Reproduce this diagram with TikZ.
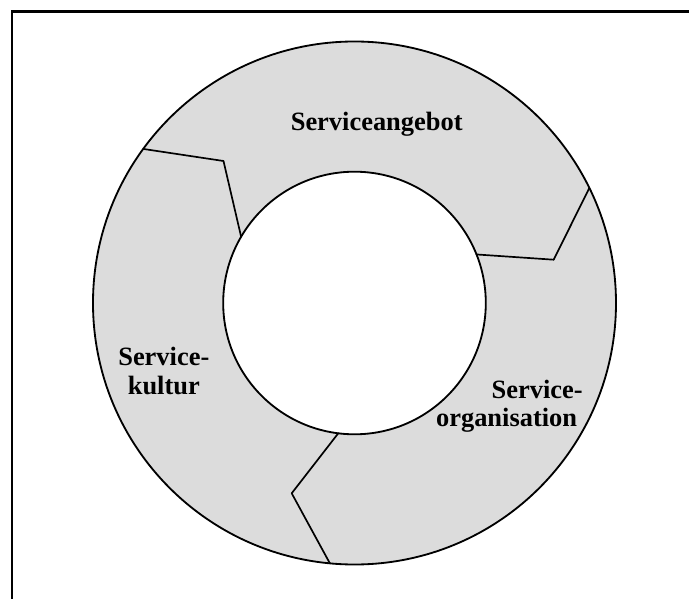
\documentclass[tikz,border=0pt]{standalone}
\usepackage{fontspec}
\setmainfont{Liberation Serif}
\usepackage[dvipsnames,svgnames]{xcolor}
\usepackage{tkz-euclide}
\definecolor{ringgray}{RGB}{220,220,220}
\tikzset{ringlabel/.style={font=\fontsize{18.8}{20}\selectfont\bfseries,inner sep=0pt}}

\begin{document}
\begin{tikzpicture}[scale=.5]
  \useasboundingbox (-17.725,-14.8) rectangle (16.725,15.15);
  % fixed points
  \tkzDefPoint(0,0){O}
  \tkzDefPoint(0:13.075){P}
  \tkzDefPoint(0:6.565){Q}
  % borders between the parts
  \tkzDefPoint(143.9:13.075){A}
  \tkzDefPoint(-6.55,7.1){B}
  \tkzDefPoint(149.7:6.565){C}
  \tkzDefPoint(26.1:13.075){D}
  \tkzDefPoint(9.96,2.165){E}
  \tkzDefPoint(21.7:6.565){F}
  \tkzDefPoint(262.9:6.565){G}
  \tkzDefPoint(-3.14,-9.515){H}
  \tkzDefPoint(264.6:13.075){I}
  % frame
  \draw[line width=1.6pt] (-17.115,-15.5) -- (-17.115,14.575) -- (17.5,14.575);
  % drawings
  \fill[ringgray] (O) circle (13.075);
  \fill[white] (O) circle (6.565);
  \tkzDrawSegments[black,line width=1.2pt](A,B B,C D,E E,F G,H H,I)
  \tkzDrawCircles[black,line width=1.3pt](O,P O,Q)
  % labelling
  \node[ringlabel] (angebot) at (1.11,8.925) {Serviceangebot};
  \node[ringlabel,align=center] (kultur) at (-9.535,-3.4) {Service-\\kultur};
  \node[ringlabel,align=right,anchor=east] (organisation) at (11.425,-5.15) {Service-\\organisation\kern4pt};
\end{tikzpicture}
\end{document}
